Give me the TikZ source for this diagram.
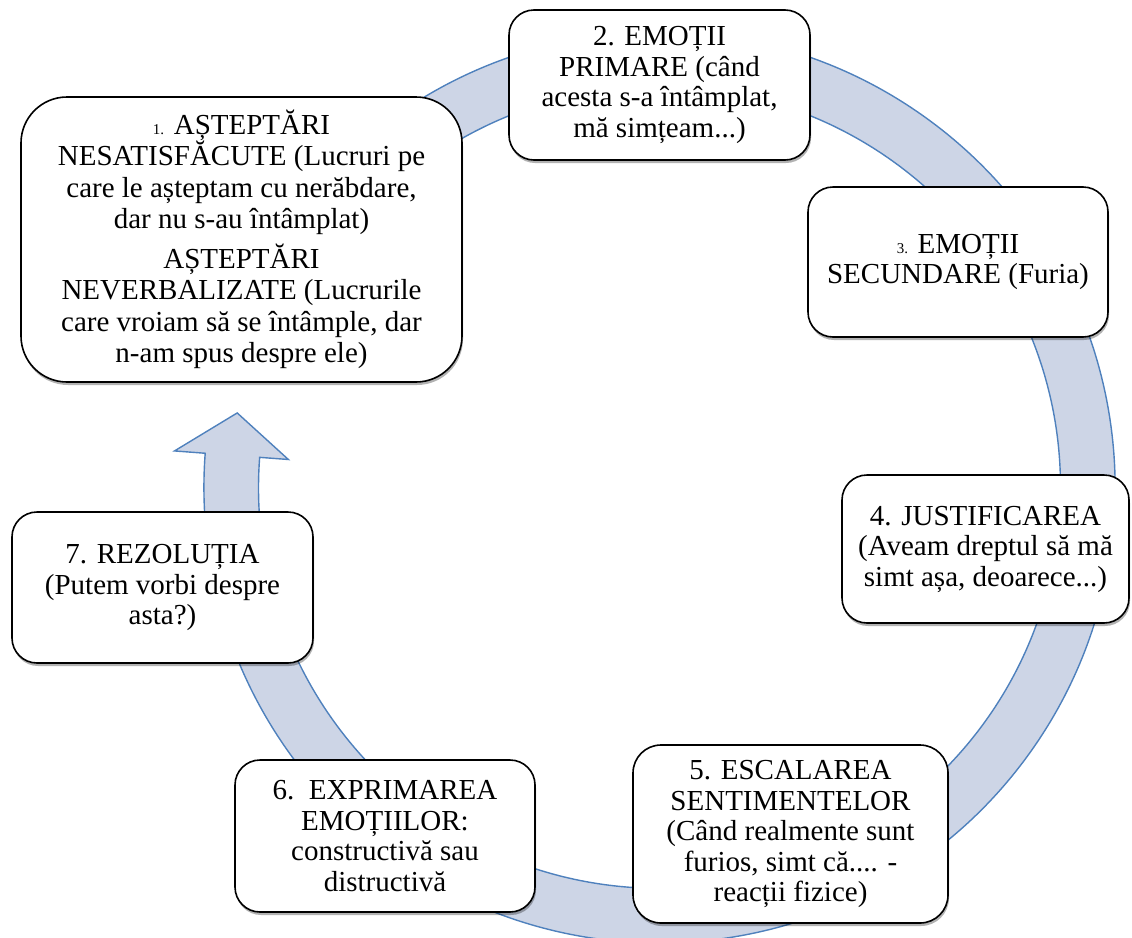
\documentclass[tikz,border=0pt]{standalone}
\usepackage{fontspec}
\setmainfont{Liberation Serif}
\usetikzlibrary{shadows,calc}
\definecolor{bandfill}{RGB}{205,213,230}
\definecolor{bandline}{RGB}{79,129,189}
\newcommand\smallnum[1]{{\fontsize{15}{16}\selectfont #1}}
\begin{document}
\begin{tikzpicture}[x=1pt,y=1pt,
  box/.style={draw=black, line width=1.6pt, fill=white, rounded corners=#1,
    align=center, inner sep=0pt, font=\fontsize{29}{30.5}\selectfont,
    drop shadow={shadow xshift=1pt, shadow yshift=-3pt, opacity=0.3, fill=black}},
  band/.style={fill=bandfill, draw=bandline, line width=1.4pt, line join=miter}]
\useasboundingbox (0,0) rectangle (1132,-937);
\coordinate (C) at (659.5,-487.4);
% circular arrow band
\filldraw[band] ($(C)+(145:455.6)$) arc[start angle=145, end angle=-184.3, radius=455.6]
  -- ($(C)+(-184.3:486.4)$) -- ($(C)+(-190:428.8)$) -- ($(C)+(-184.3:372.2)$)
  -- ($(C)+(-184.3:401)$) arc[start angle=-184.3, end angle=145, radius=401] -- cycle;
% boxes
\node[box=46pt, minimum width=441pt, minimum height=285pt, font=\fontsize{29}{31.5}\selectfont] (n1) at (241.5,-239.5)
  {\smallnum{1.} AȘTEPTĂRI\\ NESATISFĂCUTE (Lucruri pe\\ care le așteptam cu nerăbdare,\\ dar nu s-au întâmplat)\\[8pt] AȘTEPTĂRI\\ NEVERBALIZATE (Lucrurile\\ care vroiam să se întâmple, dar\\ n-am spus despre ele)};
\node[box=25pt, minimum width=301pt, minimum height=150pt] (n2) at (659.5,-85)
  {2. EMOȚII\\ PRIMARE (când\\ acesta s-a întâmplat,\\ mă simțeam...)};
\node[box=25pt, minimum width=300pt, minimum height=150pt] (n3) at (958,-262)
  {\smallnum{3.} EMOȚII\\ SECUNDARE (Furia)};
\node[box=25pt, minimum width=287pt, minimum height=148pt] (n4) at (985.5,-549)
  {4. JUSTIFICAREA\\ (Aveam dreptul să mă\\ simt așa, deoarece...)};
\node[box=28pt, minimum width=315pt, minimum height=178pt] (n5) at (790.5,-834)
  {5. ESCALAREA\\ SENTIMENTELOR\\ (Când realmente sunt\\ furios, simt că.... -\\ reacții fizice)};
\node[box=25pt, minimum width=300pt, minimum height=152pt] (n6) at (385,-836)
  {6.\ \ EXPRIMAREA\\ EMOȚIILOR:\\ constructivă sau\\ distructivă};
\node[box=25pt, minimum width=301pt, minimum height=151pt] (n7) at (162.5,-587.5)
  {7. REZOLUȚIA\\ (Putem vorbi despre\\ asta?)};
\end{tikzpicture}
\end{document}
